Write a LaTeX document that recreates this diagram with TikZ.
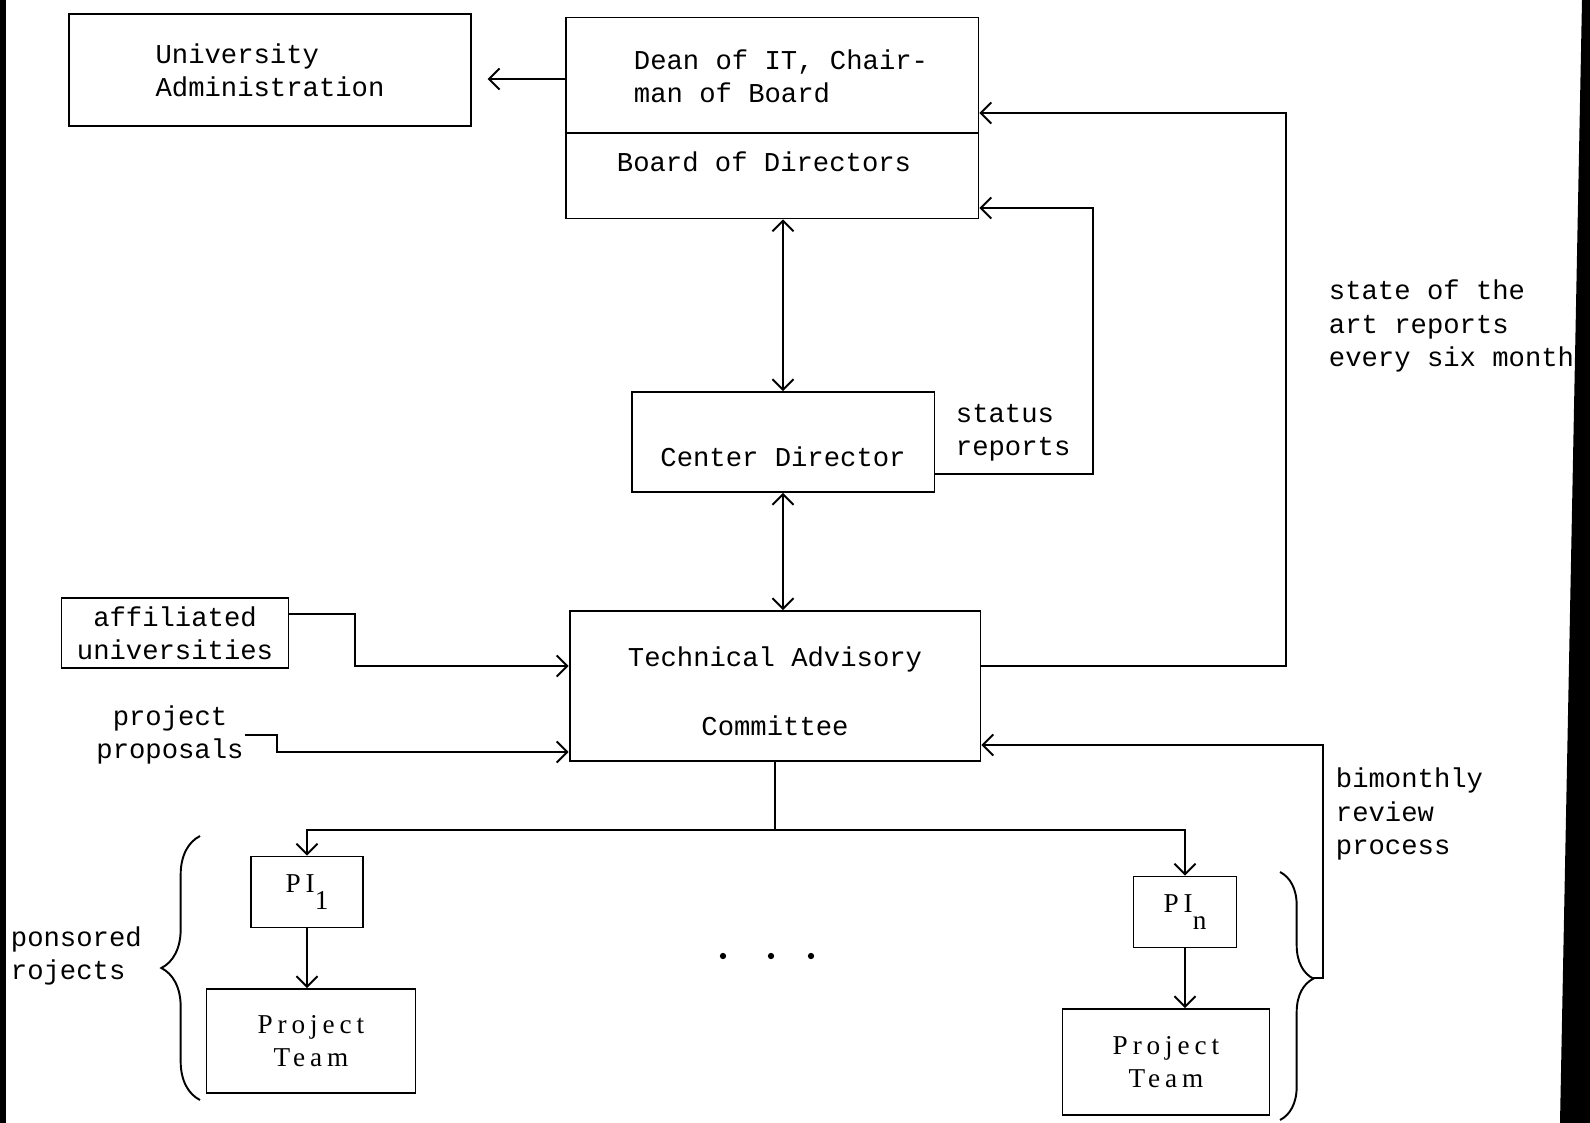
\documentclass[tikz,border=0pt]{standalone}
\usepackage{fontspec}
\setmonofont{Liberation Mono}
\newfontfamily\teamfont[LetterSpace=18]{Liberation Serif}
\usetikzlibrary{arrows.meta,decorations.pathreplacing}

\begin{document}
\begin{tikzpicture}
  [x=0.02cm,y=-0.02cm,line width=1.1pt,
   every node/.style={font=\ttfamily\fontsize{15.5}{19}\selectfont,inner sep=0pt},
   box/.style={draw,rectangle},
   lbl/.style={align=left,anchor=west},
   team/.style={box,font=\teamfont\fontsize{15.5}{19}\selectfont,align=center},
   arr/.style={-{Straight Barb[length=6pt,width=12pt]}},
   darr/.style={{Straight Barb[length=6pt,width=12pt]}-{Straight Barb[length=6pt,width=12pt]}}]
  \useasboundingbox (0,0) rectangle (1590,1123);

  \node [box,minimum width=8.04cm,minimum height=2.24cm,align=left] (univ) at (270,70) {University\\Administration};
  \node [box,minimum width=8.26cm,minimum height=4.02cm] (dean) at (772,118) {};
  \node [align=left] (chair) at (781,76) {Dean of IT, Chair-\\man of Board};
  \node (board) at (764,162) {Board of Directors};
  \draw (dean.west |- 0,133) -- (dean.east |- 0,133);
  \node [box,minimum width=6.06cm,minimum height=2cm] (cd) at (783,442) {\rule{0pt}{1.8em}Center Director};
  \node [box,minimum width=8.22cm,minimum height=3cm,align=center] (tac) at (775,686) {\rule{0pt}{1.1em}Technical Advisory\\[20pt]Committee};
  \node [box,minimum width=4.54cm,minimum height=1.4cm,align=center] (affil) at (175,633) {affiliated\\universities};
  \node [align=center] (prop) at (170,735) {project\\proposals};
  \node [team,minimum width=2.24cm,minimum height=1.42cm] (pi1) at (307,892) {PI\raisebox{-0.6em}{1}};
  \node [team,minimum width=4.18cm,minimum height=2.08cm] (team1) at (311,1041) {Project\\Team};
  \node [team,minimum width=2.06cm,minimum height=1.42cm] (pin) at (1185,912) {PI\raisebox{-0.6em}{n}};
  \node [team,minimum width=4.14cm,minimum height=2.12cm] (teamn) at (1166,1062) {Project\\Team};

  \node [lbl] (status) at (955,433) {status\\reports};
  \node [lbl] (state) at (1328,326) {state of the\\art reports\\every six month};
  \node [lbl] (review) at (1335,814) {bimonthly\\review\\process};
  \node [lbl] (spons) at (10,956) {ponsored\\rojects};

  \coordinate (sa) at (1286,115);
  \coordinate (st) at (1093,208);
  \coordinate (af) at (355,666);
  \coordinate (pp) at (277,752);
  \coordinate (bm) at (1323,745);
  \coordinate (bt) at (1313,978);
  \coordinate (split) at (775,830);

  \draw [arr,shorten >=9pt] ([yshift=-0.18cm]dean.west |- univ.east) -- ([yshift=-0.18cm]univ.east);
  \draw [arr] ([yshift=0.4cm]tac.east) -| (sa) |- ([yshift=0.1cm]dean.east);
  \draw [arr] ([yshift=-0.64cm]cd.east) -| (st) -- (st -| dean.east);
  \draw [arr] ([yshift=0.38cm]affil.east) -| (af) -- (af -| tac.west);
  \draw [arr] (prop.east) -| (pp) -- (pp -| tac.west);
  \draw [arr] (bt) -| (bm) -- (bm -| tac.east);
  \draw [darr] (cd.north) -- (cd.north |- dean.south);
  \draw [darr] (cd.south) -- (cd.south |- tac.north);
  \draw (tac.south) -- (split);
  \foreach \to in {pi1,pin}
    \draw [arr] (split) -| (\to.north);
  \foreach \from/\to in {pi1/team1,pin/teamn}
    \draw [arr] (\from.south) -- (\from.south |- \to.north);

  \draw [decorate,decoration={brace,amplitude=22pt}] (200,1100) -- (200,836);
  \draw [decorate,decoration={brace,amplitude=19pt,aspect=0.43}] (1280,872) -- (1280,1120);
  \foreach \x in {723,771,811}
    \fill (\x,956) circle (1.8pt);

  \fill (0,0) rectangle (6,1123);
  \fill (1582,0) -- (1590,0) -- (1590,1123) -- (1560,1123) -- cycle;
\end{tikzpicture}
\end{document}
